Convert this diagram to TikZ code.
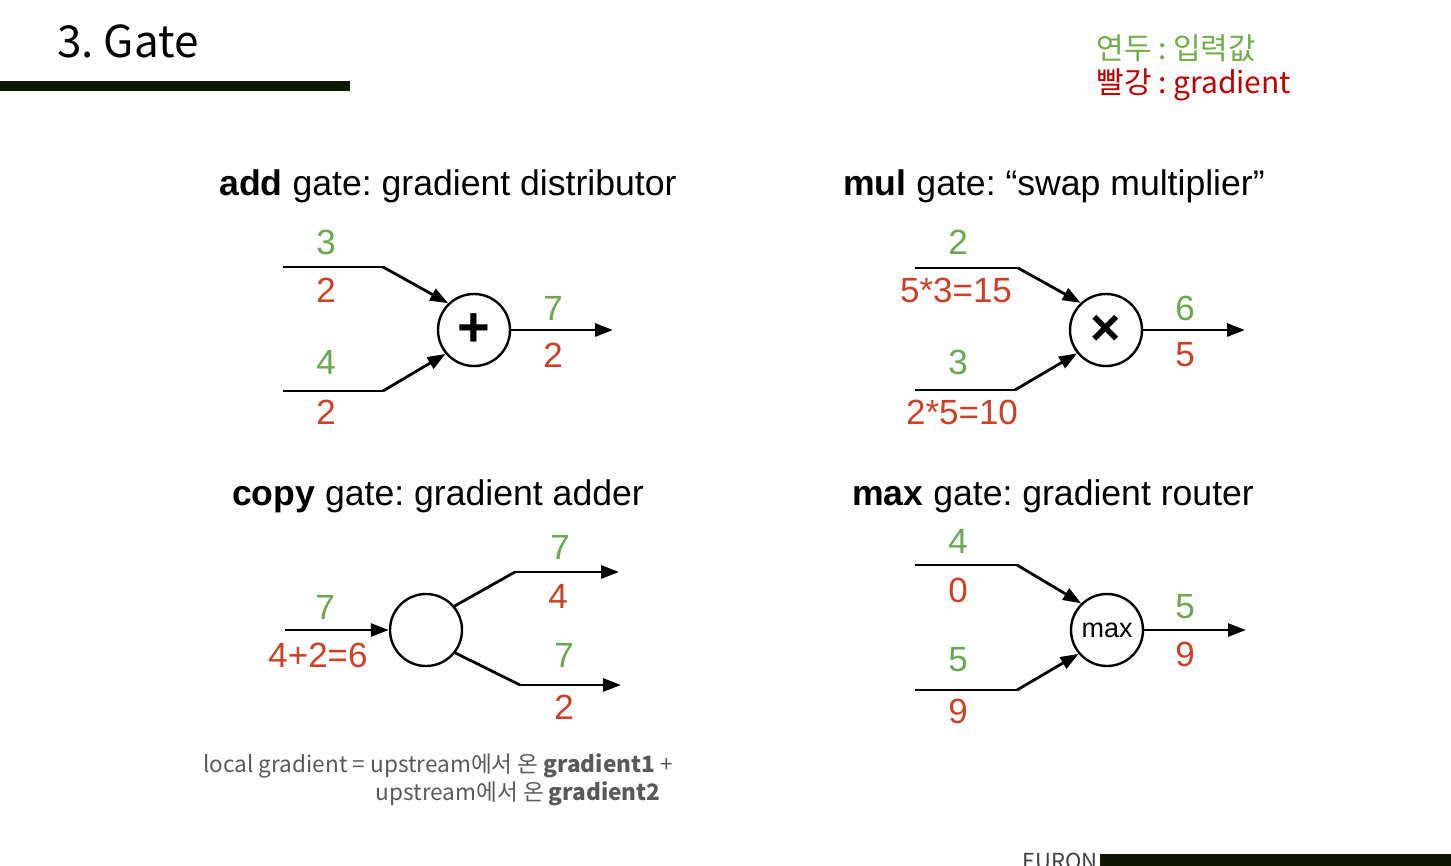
\documentclass[tikz,border=0pt]{standalone}
\usepackage{fontspec}
\setmainfont{Liberation Sans}
\newfontfamily\krfont{Noto Sans CJK KR}
\usetikzlibrary{arrows.meta}
\definecolor{ingreen}{RGB}{106,168,79}
\definecolor{gradred}{RGB}{204,65,37}
\definecolor{leggreen}{RGB}{112,173,71}
\definecolor{legred}{RGB}{192,0,0}
\definecolor{barcol}{RGB}{12,22,0}
\definecolor{notegray}{RGB}{89,89,89}
\frenchspacing

\begin{document}
\begin{tikzpicture}[x=0.5pt,y=-0.5pt,>={Triangle[length=9pt,width=6.5pt]},
    gate/.style={circle,draw,line width=1.2pt,minimum size=36pt,inner sep=0pt},
    wire/.style={line width=1.4pt},
    inval/.style={text=ingreen,inner sep=0pt,font=\fontsize{17.5}{20}\selectfont},
    gradval/.style={text=gradred,inner sep=0pt,font=\fontsize{17.5}{20}\selectfont},
    gatetitle/.style={anchor=base,font=\fontsize{17.8}{22}\selectfont}]
\useasboundingbox (0,0) rectangle (1451,866);

% header and legend
\node[anchor=base west,inner sep=0pt,font=\krfont\fontsize{22}{26}\selectfont] (title) at (57,58) {3. Gate};
\fill[barcol] (0,81) rectangle (350,91);
\node[anchor=base west,inner sep=0pt,text=leggreen,font=\krfont\fontsize{15}{18}\selectfont] (leg1) at (1096,60) {연두 : 입력값};
\node[anchor=base west,inner sep=0pt,text=legred,font=\krfont\fontsize{15}{18}\selectfont] (leg2) at (1096,94) {빨강 : gradient};

% add gate
\node[gatetitle] (addt) at (448,196) {\textbf{add} gate: gradient distributor};
\node[gate] (add) at (474,330) {\fontsize{28}{28}\selectfont\textbf{+}};
\coordinate (a1) at (283,267); \coordinate (a1k) at (383,267);
\coordinate (a2) at (283,391); \coordinate (a2k) at (383,391);
\coordinate (aout) at (613,330);
\draw[wire] (a1) -- (a1k); \draw[wire,->] (a1k) -- (add.134);
\draw[wire] (a2) -- (a2k); \draw[wire,->] (a2k) -- (add.220);
\draw[wire,->] (add) -- (aout);
\node[inval] (a1x) at (326,242) {3};
\node[gradval] (a1g) at (326,290) {2};
\node[inval] (a2x) at (326,362) {4};
\node[gradval] (a2g) at (326,412) {2};
\node[inval] (aox) at (553,308) {7};
\node[gradval] (aog) at (553,355) {2};

% mul gate
\node[gatetitle] (mult) at (1054,196) {\textbf{mul} gate: “swap multiplier”};
\node[gate] (mul) at (1106,330) {\fontsize{26}{26}\selectfont\textbf{×}};
\coordinate (m1) at (915,268); \coordinate (m1k) at (1018,268);
\coordinate (m2) at (915,390); \coordinate (m2k) at (1015,390);
\coordinate (mout) at (1245,330);
\draw[wire] (m1) -- (m1k); \draw[wire,->] (m1k) -- (mul.133);
\draw[wire] (m2) -- (m2k); \draw[wire,->] (m2k) -- (mul.219);
\draw[wire,->] (mul) -- (mout);
\node[inval] (m1x) at (958,242) {2};
\node[gradval] (m1g) at (956,290) {5*3=15};
\node[inval] (m2x) at (958,362) {3};
\node[gradval] (m2g) at (962,412) {2*5=10};
\node[inval] (mox) at (1185,308) {6};
\node[gradval] (mog) at (1185,355) {5};

% copy gate
\node[gatetitle] (copyt) at (438,505) {\textbf{copy} gate: gradient adder};
\node[gate] (copy) at (426,630) {};
\coordinate (c0) at (285,630);
\coordinate (c1k) at (515,572); \coordinate (c1) at (619,572);
\coordinate (c2k) at (520,685); \coordinate (c2) at (621,685);
\draw[wire,->] (c0) -- (copy);
\draw[wire] (copy.40) -- (c1k); \draw[wire,->] (c1k) -- (c1);
\draw[wire] (copy.-38) -- (c2k); \draw[wire,->] (c2k) -- (c2);
\node[inval] (c0x) at (325,607) {7};
\node[gradval] (c0g) at (318,655) {4+2=6};
\node[inval] (c1x) at (560,547) {7};
\node[gradval] (c1g) at (558,596) {4};
\node[inval] (c2x) at (564,655) {7};
\node[gradval] (c2g) at (564,707) {2};

% max gate
\node[gatetitle] (maxt) at (1053,505) {\textbf{max} gate: gradient router};
\node[gate] (max) at (1107,630) {\fontsize{13.5}{14}\selectfont max};
\coordinate (x1) at (915,565); \coordinate (x1k) at (1017,565);
\coordinate (x2) at (915,690); \coordinate (x2k) at (1017,690);
\coordinate (xout) at (1246,630);
\draw[wire] (x1) -- (x1k); \draw[wire,->] (x1k) -- (max.134);
\draw[wire] (x2) -- (x2k); \draw[wire,->] (x2k) -- (max.220);
\draw[wire,->] (max) -- (xout);
\node[inval] (x1x) at (958,541) {4};
\node[gradval] (x1g) at (958,590) {0};
\node[inval] (x2x) at (958,660) {5};
\node[gradval] (x2g) at (958,711) {9};
\node[inval] (xox) at (1185,607) {5};
\node[gradval] (xog) at (1185,654) {9};

% note and footer
\node[anchor=base west,inner sep=0pt,text=notegray,font=\krfont\fontsize{11.3}{13}\selectfont] (note1) at (203,772) {local gradient = upstream에서 온 \textbf{gradient1} +};
\node[anchor=base east,inner sep=0pt,text=notegray,font=\krfont\fontsize{11.3}{13}\selectfont] (note2) at (661,800) {upstream에서 온 \textbf{gradient2}};
\node[anchor=base west,inner sep=0pt,text=black!75,font=\krfont\fontsize{11}{13}\selectfont] (euron) at (1022,869) {EURON};
\fill[barcol] (1100,854) rectangle (1451,866);
\end{tikzpicture}
\end{document}
